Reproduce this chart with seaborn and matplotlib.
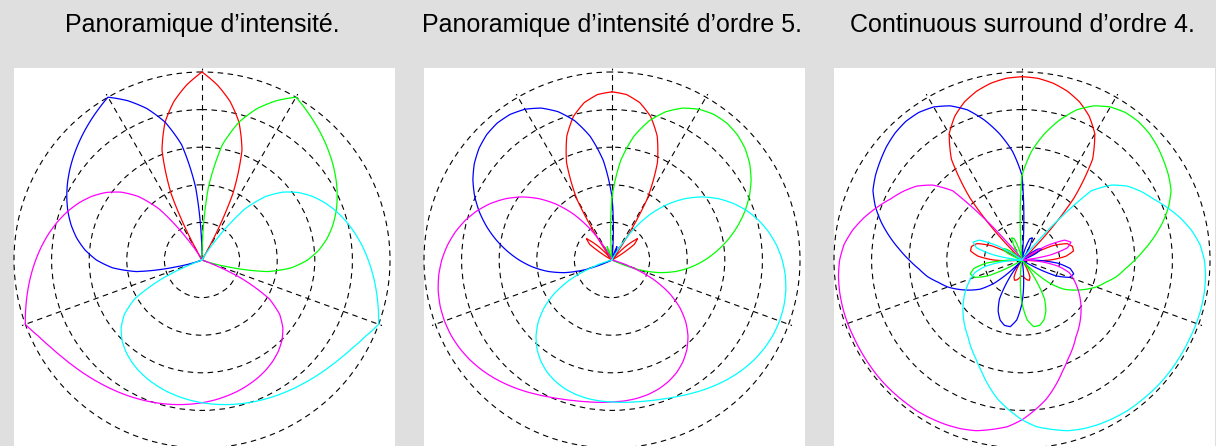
import matplotlib.pyplot as plt
import numpy as np
import seaborn as sns

# source azimuth (degrees, 0 = front, positive = towards the left)
azimuth = list(range(0, 360, 5))
speaker_az = [0, 30, 110, 250, 330]
colors = ["#ff0000", "#0000ff", "#00ff00", "#ff00ff", "#00ffff"]  # C, L, R, LS, RS

titles = [
    "Panoramique d\u2019intensit\u00e9.",
    "Panoramique d\u2019intensit\u00e9 d\u2019ordre 5.",
    "Continuous surround d\u2019ordre 4.",
]

# loudspeaker gains in dB, read every 5 degrees (-25 dB is the centre of the plot)
p1_c = [0, -1.63, -3.57, -6.02, -9.45, -15.34, -25, -25, -25, -25, -25, -25,
        -25, -25, -25, -25, -25, -25, -25, -25, -25, -25, -25, -25,
        -25, -25, -25, -25, -25, -25, -25, -25, -25, -25, -25, -25,
        -25, -25, -25, -25, -25, -25, -25, -25, -25, -25, -25, -25,
        -25, -25, -25, -25, -25, -25, -25, -25, -25, -25, -25, -25,
        -25, -25, -25, -25, -25, -25, -25, -15.34, -9.45, -6.02, -3.57, -1.63]
p1_l = [-25, -15.34, -9.45, -6.02, -3.57, -1.63, 0, -0.75, -1.47, -2.18, -2.89, -3.61,
        -4.36, -5.16, -6.02, -6.98, -8.07, -9.36, -10.96, -13.07, -16.14, -21.64, -25, -25,
        -25, -25, -25, -25, -25, -25, -25, -25, -25, -25, -25, -25,
        -25, -25, -25, -25, -25, -25, -25, -25, -25, -25, -25, -25,
        -25, -25, -25, -25, -25, -25, -25, -25, -25, -25, -25, -25,
        -25, -25, -25, -25, -25, -25, -25, -25, -25, -25, -25, -25]
p1_r = [-25, -25, -25, -25, -25, -25, -25, -25, -25, -25, -25, -25,
        -25, -25, -25, -25, -25, -25, -25, -25, -25, -25, -25, -25,
        -25, -25, -25, -25, -25, -25, -25, -25, -25, -25, -25, -25,
        -25, -25, -25, -25, -25, -25, -25, -25, -25, -25, -25, -25,
        -25, -25, -25, -21.64, -16.14, -13.07, -10.96, -9.36, -8.07, -6.98, -6.02, -5.16,
        -4.36, -3.61, -2.89, -2.18, -1.47, -0.75, 0, -1.63, -3.57, -6.02, -9.45, -15.34]
p1_ls = [-25, -25, -25, -25, -25, -25, -25, -21.64, -16.14, -13.07, -10.96, -9.36,
         -8.07, -6.98, -6.02, -5.16, -4.36, -3.61, -2.89, -2.18, -1.47, -0.75, 0, -1.01,
         -1.78, -2.39, -2.89, -3.32, -3.71, -4.05, -4.36, -4.66, -4.94, -5.21, -5.48, -5.75,
         -6.02, -6.30, -6.60, -6.91, -7.26, -7.64, -8.07, -8.58, -9.19, -9.95, -10.96, -12.39,
         -14.67, -19.19, -25, -25, -25, -25, -25, -25, -25, -25, -25, -25,
         -25, -25, -25, -25, -25, -25, -25, -25, -25, -25, -25, -25]
p1_rs = [-25, -25, -25, -25, -25, -25, -25, -25, -25, -25, -25, -25,
         -25, -25, -25, -25, -25, -25, -25, -25, -25, -25, -25, -19.19,
         -14.67, -12.39, -10.96, -9.95, -9.19, -8.58, -8.07, -7.64, -7.26, -6.91, -6.60, -6.30,
         -6.02, -5.75, -5.48, -5.21, -4.94, -4.66, -4.36, -4.05, -3.71, -3.32, -2.89, -2.39,
         -1.78, -1.01, 0, -0.75, -1.47, -2.18, -2.89, -3.61, -4.36, -5.16, -6.02, -6.98,
         -8.07, -9.36, -10.96, -13.07, -16.14, -21.64, -25, -25, -25, -25, -25, -25]

p2_c = [-2.64, -2.91, -3.75, -5.22, -7.44, -10.70, -15.66, -25, -25, -22.48, -20.58, -21.39,
        -24.73, -25, -25, -25, -25, -25, -25, -25, -25, -25, -25, -25,
        -25, -25, -25, -25, -25, -25, -25, -25, -25, -25, -25, -25,
        -25, -25, -25, -25, -25, -25, -25, -25, -25, -25, -25, -25,
        -25, -25, -25, -25, -25, -25, -25, -25, -25, -25, -25, -25,
        -24.73, -21.39, -20.58, -22.48, -25, -25, -15.66, -10.70, -7.44, -5.22, -3.75, -2.91]
p2_l = [-16.65, -11.72, -8.31, -5.83, -4.01, -2.71, -1.85, -1.37, -1.24, -1.43, -1.91, -2.65,
        -3.64, -4.84, -6.22, -7.73, -9.32, -10.97, -12.65, -14.40, -16.31, -18.52, -21.31, -25,
        -25, -25, -25, -25, -25, -25, -25, -25, -25, -25, -25, -25,
        -25, -25, -25, -25, -25, -25, -25, -25, -25, -25, -25, -25,
        -25, -25, -25, -25, -25, -25, -25, -25, -25, -25, -25, -25,
        -25, -25, -25, -25, -25, -25, -25, -23.72, -23.11, -25, -25, -25]
p2_r = [-16.65, -25, -25, -25, -23.11, -23.72, -25, -25, -25, -25, -25, -25,
        -25, -25, -25, -25, -25, -25, -25, -25, -25, -25, -25, -25,
        -25, -25, -25, -25, -25, -25, -25, -25, -25, -25, -25, -25,
        -25, -25, -25, -25, -25, -25, -25, -25, -25, -25, -25, -25,
        -25, -25, -21.31, -18.52, -16.31, -14.40, -12.65, -10.97, -9.32, -7.73, -6.22, -4.84,
        -3.64, -2.65, -1.91, -1.43, -1.24, -1.37, -1.85, -2.71, -4.01, -5.83, -8.31, -11.72]
p2_ls = [-25, -25, -25, -25, -25, -25, -23.66, -20.02, -17.04, -14.50, -12.31, -10.38,
         -8.69, -7.20, -5.89, -4.77, -3.81, -3.01, -2.36, -1.87, -1.53, -1.34, -1.29, -1.37,
         -1.58, -1.90, -2.32, -2.81, -3.35, -3.90, -4.44, -4.93, -5.33, -5.64, -5.86, -6.00,
         -6.13, -6.19, -6.30, -6.48, -6.77, -7.19, -7.76, -8.53, -9.50, -10.71, -12.20, -14.01,
         -16.22, -18.94, -22.38, -25, -25, -25, -25, -25, -25, -25, -25, -25,
         -25, -25, -25, -25, -25, -25, -25, -25, -25, -25, -25, -25]
p2_rs = [-25, -25, -25, -25, -25, -25, -25, -25, -25, -25, -25, -25,
         -25, -25, -25, -25, -25, -25, -25, -25, -25, -25, -22.38, -18.94,
         -16.22, -14.01, -12.20, -10.71, -9.50, -8.53, -7.76, -7.19, -6.77, -6.48, -6.30, -6.19,
         -6.13, -6.00, -5.86, -5.64, -5.33, -4.93, -4.44, -3.90, -3.35, -2.81, -2.32, -1.90,
         -1.58, -1.37, -1.29, -1.34, -1.53, -1.87, -2.36, -3.01, -3.81, -4.77, -5.89, -7.20,
         -8.69, -10.38, -12.31, -14.50, -17.04, -20.02, -23.66, -25, -25, -25, -25, -25]

p3_c = [-0.63, -0.75, -1.13, -1.75, -2.63, -3.88, -5.63, -8.63, -14.25, -23.00, -25, -25,
        -24.25, -20.50, -18.63, -18.05, -18.05, -19.13, -21.25, -24.50, -25, -25, -25, -25,
        -25, -25, -25, -25, -25, -25, -23.75, -22.50, -22.13, -22.25, -22.50, -22.75,
        -22.88, -22.75, -22.50, -22.25, -22.13, -22.50, -23.75, -25, -25, -25, -25, -25,
        -25, -25, -25, -25, -25, -24.50, -21.25, -19.13, -18.05, -18.05, -18.63, -20.50,
        -24.25, -25, -25, -23.00, -14.25, -8.63, -5.63, -3.88, -2.63, -1.75, -1.13, -0.75]
p3_l = [-13.75, -10.50, -8.00, -5.75, -3.75, -2.38, -1.50, -1.05, -0.95, -1.13, -1.50, -2.00,
        -2.50, -3.13, -4.25, -5.63, -7.13, -8.63, -10.00, -11.25, -12.25, -13.50, -14.50, -15.75,
        -17.00, -18.25, -20.25, -23.50, -25, -22.00, -19.00, -17.50, -16.50, -16.00, -16.00, -17.00,
        -19.25, -22.50, -25, -25, -25, -25, -25, -25, -25, -25, -25, -25,
        -23.75, -20.00, -18.25, -17.88, -18.50, -20.25, -23.75, -25, -25, -25, -25, -23.00,
        -22.00, -22.50, -24.25, -25, -25, -25, -23.00, -21.75, -22.00, -23.75, -25, -25]
p3_r = [-13.75, -25, -25, -23.75, -22.00, -21.75, -23.00, -25, -25, -25, -24.25, -22.50,
        -22.00, -23.00, -25, -25, -25, -25, -23.75, -20.25, -18.50, -17.88, -18.25, -20.00,
        -23.75, -25, -25, -25, -25, -25, -25, -25, -25, -25, -25, -22.50,
        -19.25, -17.00, -16.00, -16.00, -16.50, -17.50, -19.00, -22.00, -25, -23.50, -20.25, -18.25,
        -17.00, -15.75, -14.50, -13.50, -12.25, -11.25, -10.00, -8.63, -7.13, -5.63, -4.25, -3.13,
        -2.50, -2.00, -1.50, -1.13, -0.95, -1.05, -1.50, -2.38, -3.75, -5.75, -8.00, -10.50]
p3_ls = [-25, -25, -25, -25, -25, -25, -25, -25, -22.00, -12.00, -9.50, -7.88,
         -6.75, -5.75, -4.50, -3.25, -2.13, -1.25, -0.75, -0.50, -0.38, -0.33, -0.33, -0.38,
         -0.38, -0.38, -0.38, -0.43, -0.50, -0.55, -0.70, -0.88, -1.13, -1.50, -2.13, -2.75,
         -3.75, -5.00, -6.25, -7.75, -9.25, -10.50, -11.50, -12.50, -13.25, -14.00, -14.75, -15.50,
         -16.25, -17.00, -17.75, -18.50, -20.00, -22.50, -25, -25, -21.25, -18.75, -18.08, -18.75,
         -21.25, -25, -25, -25, -25, -25, -25, -25, -25, -25, -25, -25]
p3_rs = [-25, -25, -25, -25, -25, -25, -25, -25, -25, -25, -25, -25,
         -21.25, -18.75, -18.08, -18.75, -21.25, -25, -25, -22.50, -20.00, -18.50, -17.75, -17.00,
         -16.25, -15.50, -14.75, -14.00, -13.25, -12.50, -11.50, -10.50, -9.25, -7.75, -6.25, -5.00,
         -3.75, -2.75, -2.13, -1.50, -1.13, -0.88, -0.70, -0.55, -0.50, -0.43, -0.38, -0.38,
         -0.38, -0.38, -0.33, -0.33, -0.38, -0.50, -0.75, -1.25, -2.13, -3.25, -4.50, -5.75,
         -6.75, -7.88, -9.50, -12.00, -22.00, -25, -25, -25, -25, -25, -25, -25]

panels = [
    [p1_c, p1_l, p1_r, p1_ls, p1_rs],
    [p2_c, p2_l, p2_r, p2_ls, p2_rs],
    [p3_c, p3_l, p3_r, p3_ls, p3_rs],
]
for gains in panels:
    for g in gains:
        assert len(g) == len(azimuth)

sns.set_theme(style="white")
plt.rcParams["font.family"] = ["Liberation Sans", "DejaVu Sans"]

W, H = 1216, 446
fig = plt.figure(figsize=(W / 100, H / 100), dpi=100, facecolor="#dfdfdf")

centres = [202, 612, 1022]
radius = 188          # pixels for 0 dB
r_top = 0.5           # a little room above 0 dB so the outer ring is not clipped
ax_rad = radius * (25 + r_top) / 25
cy = 260              # from the top

theta = np.radians(azimuth + [360])

for cx, title, gains in zip(centres, titles, panels):
    bg = fig.add_axes([(cx - 188) / W, 0, 381 / W, 378 / H])
    bg.set_facecolor("white")
    bg.set_xticks([])
    bg.set_yticks([])
    for s in bg.spines.values():
        s.set_visible(False)

    ax = fig.add_axes([(cx - ax_rad) / W, (H - cy - ax_rad) / H,
                       2 * ax_rad / W, 2 * ax_rad / H], projection="polar")
    ax.patch.set_alpha(0)
    for g, c in zip(gains, colors):
        sns.lineplot(x=theta, y=g + [g[0]], sort=False, estimator=None,
                     color=c, linewidth=0.9, ax=ax, clip_on=False)
    # draw each segment straight in (angle, dB) space, like the original curves
    for line in ax.lines:
        line.get_path()._interpolation_steps = 12

    ax.set_theta_zero_location("N")
    ax.set_theta_direction(1)
    ax.set_ylim(-25, r_top)
    ax.set_yticks([-20, -15, -10, -5, 0])
    ax.set_xticks(np.radians(speaker_az))
    ax.set_xticklabels([])
    ax.set_yticklabels([])
    ax.set_xlabel("")
    ax.set_ylabel("")
    ax.tick_params(length=0)
    ax.spines["polar"].set_visible(False)
    ax.set_axisbelow(True)
    ax.grid(True, color="black", linestyle=(0, (5, 4)), linewidth=0.8)

    fig.text(cx / W, 1 - 31.7 / H, title, ha="center", va="baseline",
             fontsize=18, color="black")

fig.savefig("out.png", dpi=100, facecolor=fig.get_facecolor())
